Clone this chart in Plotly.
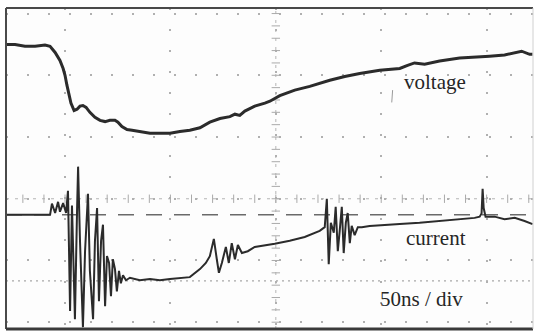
import plotly.graph_objects as go

# time in ns (50 ns / div), amplitude in screen divisions
volt_t = [-28.0, -23.7, -19.0, -14.2, -9.5, -7.1, -4.7, -2.4, -0.9, 0.0, 0.9, 1.9, 2.8, 4.3, 5.7,
          7.1, 8.5, 10.0, 11.8, 14.2, 16.6, 19.0, 21.3, 23.7, 25.1, 27.0, 29.4, 31.8, 35.5, 37.9,
          40.3, 45.0, 49.8, 54.5, 59.2, 64.0, 68.7, 73.5, 78.2, 80.6, 82.9, 85.3, 90.0, 94.8, 97.2,
          101.9, 109.0, 116.1, 125.6, 132.7, 139.8, 149.3, 158.8, 162.5, 165.8, 170.6, 177.7,
          187.2, 194.3, 201.4, 208.5, 213.3, 216.6, 220.4, 221.8]
volt_v = [2.50, 2.50, 2.47, 2.47, 2.49, 2.47, 2.37, 2.24, 2.11, 2.00, 1.84, 1.68, 1.55, 1.43, 1.45,
          1.50, 1.51, 1.48, 1.40, 1.32, 1.27, 1.25, 1.27, 1.27, 1.24, 1.17, 1.12, 1.11, 1.09, 1.07,
          1.06, 1.06, 1.06, 1.09, 1.11, 1.15, 1.24, 1.30, 1.33, 1.37, 1.35, 1.42, 1.50, 1.55, 1.58,
          1.67, 1.76, 1.82, 1.92, 1.98, 2.03, 2.08, 2.11, 2.16, 2.20, 2.18, 2.23,
          2.28, 2.29, 2.31, 2.33, 2.36, 2.39, 2.34, 2.34]

curr_t = [-28.0, -7.1, -6.2, -4.7, -3.3, -2.4, -0.9, 0.5, 1.4, 2.4, 3.3, 4.7, 5.7, 6.2, 7.1,
          8.5, 9.5, 10.9, 11.8, 13.3, 14.2, 15.2, 16.1, 17.1, 18.0, 19.0, 19.9, 20.9, 21.8, 22.7,
          23.7, 24.6, 25.6, 26.5, 27.5, 28.9, 30.8, 35.5, 40.3, 45.0, 49.8, 54.5, 59.2, 64.0, 66.8,
          68.7, 70.6, 72.0, 73.0, 74.4, 76.3, 77.7, 79.1, 80.6, 82.0, 83.9, 86.7, 90.0, 94.8, 99.5,
          106.6, 113.7, 120.8, 123.2, 124.2, 125.1, 126.1, 127.5, 128.4, 129.4, 130.3, 131.3, 132.2,
          133.2, 134.1, 135.1, 136.0, 137.4, 138.9, 140.8, 144.5, 151.6, 158.8, 168.2, 177.7, 187.2,
          194.3, 196.7, 197.6, 198.1, 198.6, 199.5, 203.8, 208.5, 213.3, 218.0, 221.8]
curr_v = [-0.26, -0.26, -0.08, -0.23, -0.05, -0.21, -0.07, -0.23, 0.13, -1.82, -0.11, -1.95, -0.20, 0.52, -0.68,
          -2.08, -0.85, 0.08, -1.17, -1.95, -0.68, -0.15, -1.66, -0.68, -0.42, -1.74, -0.93, -1.04, -1.58, -0.98,
          -1.14, -1.50, -1.17, -1.37, -1.24, -1.32, -1.28, -1.32, -1.30, -1.32, -1.30, -1.28, -1.27, -1.14, -1.04,
          -0.93, -0.65, -0.98, -1.20, -1.04, -0.78, -1.04, -0.72, -0.98, -0.75, -0.88, -0.85, -0.78, -0.76, -0.73,
          -0.68, -0.62, -0.52, -0.46, 0.00, -1.06, -0.39, -0.55, -0.13, -0.85, -0.52, -0.13, -0.88,
          -0.39, -0.23, -0.72, -0.44, -0.59, -0.46, -0.46, -0.44, -0.42, -0.41, -0.39, -0.36, -0.33,
          -0.31, -0.29, -0.24, 0.16, -0.15, -0.29, -0.29, -0.33, -0.31, -0.36, -0.41]

ref_levels = [-0.26, -1.33]
labels = ["voltage", "current", "50ns / div"]
label_t = [175.3, 175.8, 169.2]
label_v = [1.89, -0.63, -1.63]

X_RANGE = [-28, 222]
Y_RANGE = [-2.11, 3.09]
TRACE = "#2b2b2b"

fig = go.Figure()

# centre graticule lines with minor ticks
center_t, center_v = 100, 0
fig.add_shape(type="line", x0=X_RANGE[0], x1=X_RANGE[1], y0=center_v, y1=center_v,
              line=dict(color="#b5b5b5", width=1, dash="3px,6px"), layer="below")
fig.add_shape(type="line", x0=center_t, x1=center_t, y0=Y_RANGE[0], y1=Y_RANGE[1],
              line=dict(color="#b5b5b5", width=1, dash="3px,6px"), layer="below")
tick_x = [X_RANGE[0] + 8 + 10 * k for k in range(25)]
tick_y = [Y_RANGE[0] + 0.11 + 0.2 * k for k in range(26)]
fig.add_trace(go.Scatter(x=tick_x, y=[center_v] * len(tick_x), mode="markers",
                         marker=dict(symbol="line-ns", size=6, line=dict(color="#aaaaaa", width=1)),
                         hoverinfo="skip", showlegend=False))
fig.add_trace(go.Scatter(x=[center_t] * len(tick_y), y=tick_y, mode="markers",
                         marker=dict(symbol="line-ew", size=6, line=dict(color="#aaaaaa", width=1)),
                         hoverinfo="skip", showlegend=False))

# reference marker lines
fig.add_shape(type="line", x0=X_RANGE[0], x1=X_RANGE[1], y0=ref_levels[0], y1=ref_levels[0],
              line=dict(color="#6a6a6a", width=1.5, dash="16px,12px"), layer="below")
fig.add_shape(type="line", x0=X_RANGE[0], x1=X_RANGE[1], y0=ref_levels[1], y1=ref_levels[1],
              line=dict(color="#a8a8a8", width=1.2, dash="2px,4px"), layer="below")

# small cursor mark near voltage label
fig.add_shape(type="line", x0=155.4, x1=155.0, y0=1.76, y1=1.56,
              line=dict(color="#9a9a9a", width=1))

fig.add_trace(go.Scatter(x=volt_t, y=volt_v, mode="lines", name="voltage",
                         line=dict(color=TRACE, width=3), showlegend=False))
fig.add_trace(go.Scatter(x=curr_t, y=curr_v, mode="lines", name="current",
                         line=dict(color=TRACE, width=2), showlegend=False))

for txt, tx, ty in zip(labels, label_t, label_v):
    fig.add_annotation(x=tx, y=ty, text=txt, showarrow=False,
                       font=dict(family="Liberation Serif", size=21, color="#262626"))

# frame
fig.add_shape(type="line", xref="paper", yref="paper", x0=0, x1=0, y0=0, y1=1,
              line=dict(color="#4a4a4a", width=2))
fig.add_shape(type="line", xref="paper", yref="paper", x0=0, x1=1, y0=1, y1=1,
              line=dict(color="#4a4a4a", width=2))
fig.add_shape(type="line", xref="paper", yref="paper", x0=0, x1=1, y0=0, y1=0,
              line=dict(color="#3a3a3a", width=3))
fig.add_shape(type="line", xref="paper", yref="paper", x0=1, x1=1, y0=0, y1=1,
              line=dict(color="#d0d0d0", width=1))

fig.update_xaxes(range=X_RANGE, tick0=0, dtick=50, showgrid=True, gridcolor="#b0b0b0",
                 gridwidth=1.5, griddash="2px,19px", showticklabels=False, ticks="",
                 zeroline=False, showline=False, fixedrange=True)
fig.update_yaxes(range=Y_RANGE, tick0=0, dtick=1, showgrid=True, gridcolor="#b0b0b0",
                 gridwidth=1.5, griddash="2px,19px", showticklabels=False, ticks="",
                 zeroline=False, showline=False, fixedrange=True)

fig.update_layout(width=535, height=332, margin=dict(l=6, r=2, t=8, b=3),
                  plot_bgcolor="#fdfdfd", paper_bgcolor="#ffffff")

fig.write_html("out.html", config={"displayModeBar": False},
               post_script="document.body.style.margin='0';document.body.style.padding='0';")
